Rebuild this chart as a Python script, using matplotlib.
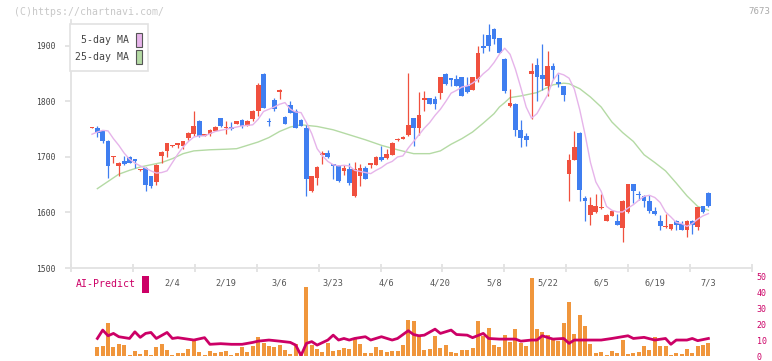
import numpy as np
import matplotlib
matplotlib.use("Agg")
import matplotlib.pyplot as plt
from matplotlib.patches import Rectangle

# daily candles (stock 7673)
opens = [1752, 1753, 1746, 1729, 1700, 1684, 1693, 1700, 1696, 1676,
         1681, 1665, 1655, 1701, 1710, 1719, 1722, 1720, 1735, 1742,
         1765, 1738, 1742, 1747, 1770, 1752, 1754, 1760, 1767, 1756,
         1768, 1782, 1850, 1764, 1803, 1817, 1772, 1794, 1782, 1767,
         1752, 1638, 1663, 1704, 1707, 1686, 1685, 1674, 1678, 1629,
         1665, 1681, 1686, 1686, 1700, 1698, 1704, 1730, 1733, 1739,
         1770, 1752, 1803, 1806, 1805, 1816, 1850, 1842, 1840, 1844,
         1828, 1821, 1840, 1900, 1920, 1931, 1914, 1877, 1792, 1796,
         1749, 1737, 1850, 1866, 1848, 1827, 1864, 1835, 1827, 1669,
         1695, 1744, 1627, 1596, 1600, 1608, 1585, 1594, 1585, 1572,
         1600, 1651, 1633, 1630, 1621, 1603, 1585, 1573, 1570, 1585,
         1579, 1569, 1585, 1573, 1611, 1636]
closes = [1754, 1744, 1728, 1683, 1702, 1690, 1687, 1690, 1693, 1678,
          1650, 1648, 1686, 1709, 1725, 1721, 1725, 1728, 1744, 1756,
          1737, 1741, 1749, 1754, 1755, 1754, 1750, 1764, 1755, 1765,
          1783, 1830, 1789, 1763, 1786, 1821, 1760, 1780, 1753, 1756,
          1660, 1665, 1682, 1706, 1700, 1684, 1656, 1681, 1653, 1678,
          1681, 1661, 1688, 1700, 1695, 1705, 1725, 1732, 1736, 1758,
          1752, 1776, 1806, 1796, 1796, 1844, 1832, 1839, 1828, 1810,
          1817, 1844, 1888, 1897, 1900, 1913, 1888, 1818, 1798, 1749,
          1734, 1730, 1855, 1845, 1840, 1864, 1857, 1832, 1811, 1695,
          1718, 1641, 1620, 1614, 1611, 1610, 1596, 1603, 1578, 1621,
          1651, 1638, 1631, 1620, 1602, 1597, 1576, 1576, 1579, 1578,
          1569, 1585, 1578, 1609, 1600, 1612]
highs = [1754, 1755, 1747, 1730, 1702, 1691, 1702, 1701, 1697, 1678,
         1682, 1666, 1687, 1710, 1726, 1722, 1726, 1729, 1745, 1782,
         1766, 1742, 1750, 1755, 1771, 1765, 1763, 1765, 1768, 1766,
         1784, 1833, 1851, 1770, 1807, 1822, 1773, 1800, 1787, 1768,
         1758, 1666, 1683, 1710, 1712, 1686, 1686, 1686, 1690, 1691,
         1687, 1683, 1688, 1701, 1720, 1714, 1727, 1734, 1737, 1851,
         1771, 1817, 1818, 1807, 1810, 1845, 1851, 1843, 1848, 1845,
         1844, 1845, 1900, 1921, 1940, 1932, 1915, 1878, 1822, 1797,
         1766, 1743, 1869, 1879, 1904, 1891, 1870, 1850, 1828, 1705,
         1746, 1745, 1630, 1628, 1633, 1633, 1597, 1604, 1597, 1622,
         1652, 1652, 1639, 1631, 1631, 1610, 1595, 1598, 1580, 1586,
         1585, 1586, 1586, 1610, 1612, 1637]
lows = [1752, 1736, 1725, 1663, 1690, 1665, 1686, 1689, 1680, 1674,
        1639, 1644, 1649, 1690, 1700, 1718, 1716, 1714, 1731, 1738,
        1736, 1737, 1737, 1746, 1754, 1741, 1749, 1759, 1752, 1755,
        1764, 1773, 1788, 1755, 1782, 1804, 1759, 1779, 1752, 1755,
        1629, 1637, 1650, 1687, 1699, 1660, 1655, 1668, 1649, 1628,
        1648, 1660, 1680, 1685, 1692, 1697, 1703, 1729, 1732, 1738,
        1719, 1740, 1783, 1795, 1786, 1805, 1830, 1828, 1827, 1809,
        1816, 1820, 1835, 1888, 1891, 1903, 1887, 1816, 1790, 1737,
        1718, 1720, 1769, 1800, 1821, 1809, 1840, 1826, 1800, 1620,
        1694, 1620, 1584, 1578, 1599, 1607, 1584, 1593, 1577, 1547,
        1599, 1617, 1622, 1609, 1599, 1596, 1568, 1572, 1569, 1568,
        1568, 1556, 1561, 1569, 1599, 1609]

ma5 = [1741, 1745, 1748, 1747, 1733, 1721, 1707, 1696, 1689, 1684,
       1680, 1675, 1671, 1672, 1675, 1690, 1705, 1718, 1728, 1736,
       1738, 1738, 1742, 1746, 1748, 1750, 1752, 1754, 1756, 1757,
       1758, 1768, 1782, 1786, 1790, 1795, 1798, 1786, 1781, 1780,
       1762, 1742, 1715, 1702, 1692, 1686, 1684, 1685, 1684, 1676,
       1674, 1672, 1670, 1676, 1681, 1688, 1692, 1700, 1702, 1716,
       1728, 1740, 1752, 1762, 1775, 1786, 1800, 1815, 1820, 1826,
       1828, 1833, 1840, 1850, 1858, 1870, 1885, 1896, 1885, 1858,
       1825, 1790, 1770, 1778, 1795, 1812, 1838, 1851, 1848, 1842,
       1822, 1785, 1740, 1690, 1655, 1638, 1611, 1604, 1601, 1601,
       1608, 1614, 1622, 1629, 1631, 1627, 1618, 1601, 1592, 1582,
       1580, 1575, 1580, 1588, 1594, 1598]

ma25_idx = [1, 3, 5, 7, 9, 11, 13, 15, 17, 19, 22, 25, 27, 29, 31, 33, 35, 37,
            39, 42, 45, 48, 51, 54, 57, 60, 63, 65, 67, 69, 71, 73, 75, 76, 77,
            78, 80, 83, 86, 88, 89, 91, 93, 95, 97, 99, 101, 103, 105, 107,
            109, 111, 113, 115]
ma25 = [1643, 1656, 1669, 1676, 1682, 1686, 1690, 1697, 1706, 1711, 1713,
        1714, 1715, 1721, 1727, 1735, 1746, 1754, 1758, 1755, 1749, 1740,
        1731, 1721, 1713, 1706, 1706, 1711, 1723, 1733, 1745, 1761, 1778,
        1790, 1798, 1807, 1810, 1816, 1830, 1833, 1832, 1823, 1808, 1790,
        1763, 1744, 1728, 1704, 1690, 1675, 1653, 1630, 1611, 1604]

# AI-Predict panel (bars start at the second candle)
ai_bars = [5.5, 6.1, 20.6, 5.5, 7.4, 6.7, 0.4, 3.0, 1.1, 3.6,
           0.4, 5.5, 7.4, 3.6, 0.4, 1.7, 1.7, 4.2, 9.9, 2.3,
           0.4, 3.0, 1.7, 2.3, 3.0, 0.4, 1.7, 5.5, 2.3, 6.1,
           11.8, 8.0, 6.1, 5.5, 6.7, 3.6, 1.1, 7.4, 1.1, 43.8,
           6.7, 4.2, 2.3, 8.0, 3.0, 3.6, 4.8, 4.2, 11.1, 7.4,
           1.7, 1.7, 5.5, 3.6, 2.3, 3.0, 3.0,
           6.7, 23.1, 22.1, 12.6, 3.8, 4.4, 12.4, 5.0, 6.7, 2.5,
           1.7, 3.8, 3.8, 5.2, 22.1, 12.6, 18.0, 6.7, 5.5, 13.6,
           8.8, 17.4, 8.2, 6.3, 49.5, 17.0, 15.1, 13.0, 10.1, 9.5,
           20.6, 34.0, 13.9, 26.2, 18.7, 7.6, 1.7, 2.5, 0.4, 3.2,
           1.7, 10.1, 1.5, 1.7, 2.5, 6.3, 3.6, 12.0, 6.3, 6.3,
           0.6, 1.7, 1.3, 4.4, 1.7, 6.3, 6.9, 8.2]
ai_idx = [1, 2, 3, 4, 5, 7, 8, 9, 10, 11, 12, 14, 15, 16, 19, 21, 22, 24, 26,
          28, 30, 31, 33, 35, 37, 38, 39, 40, 41, 42, 44, 45, 46, 47, 48, 49,
          51, 52, 54, 56, 57, 59, 60, 61, 62, 64, 65, 67, 68, 70, 71, 73, 74,
          76, 79, 80, 82, 83, 84, 86, 88, 89, 90, 92, 95, 97, 100, 101, 103,
          105, 107, 108, 109, 111, 112, 113, 115]
ai_line = [11.1, 16.4, 12.8, 14.3, 12.2, 11.1, 15.3, 11.8, 14.3, 14.9, 11.1,
           14.9, 11.1, 11.6, 10.1, 11.6, 7.4, 7.8, 7.4, 7.4, 8.6, 9.4, 10.1,
           9.4, 8.6, 6.9, 0.3, 8.0, 9.1, 6.9, 10.1, 13.2, 10.1, 11.1, 10.1,
           11.1, 12.2, 10.1, 12.2, 10.1, 11.1, 16.0, 13.6, 12.8, 13.2, 17.0,
           14.3, 16.4, 13.6, 13.2, 11.6, 14.3, 11.1, 10.7, 10.7, 9.4, 10.1,
           10.1, 12.8, 10.7, 11.1, 8.0, 10.1, 10.1, 10.1, 11.1, 12.8, 11.1,
           11.8, 10.1, 11.1, 7.4, 10.1, 10.1, 11.1, 9.7, 11.1]

date_labels = ["2/4", "2/19", "3/6", "3/23", "4/6", "4/20", "5/8", "5/22",
               "6/5", "6/19", "7/3"]
date_idx = [15, 25, 35, 45, 55, 65, 75, 85, 95, 105, 115]

RED = "#f0503e"
BLUE = "#3f7ef0"
PINK = "#e6b4ea"
GREEN = "#b4daa4"
MAGENTA = "#cc0066"
ORANGE = "#f0963c"
MONO = "DejaVu Sans Mono"

W, H = 772, 361
fig = plt.figure(figsize=(W / 100, H / 100), dpi=100)


def box(x0, y0, x1, y1):
    return [x0 / W, 1 - y1 / H, (x1 - x0) / W, (y1 - y0) / H]


xmin, xmax = (71 - 92) / 5.36, (752 - 92) / 5.36

# price panel
ax = fig.add_axes(box(71, 20, 752, 268))
o, c = np.array(opens), np.array(closes)
x = np.arange(len(o))
col = np.where(c >= o, RED, BLUE)
ax.vlines(x, lows, highs, colors=col, lw=0.9, zorder=2)
ax.bar(x, np.maximum(np.abs(c - o), 2.5), bottom=np.minimum(o, c),
       width=0.88, color=col, linewidth=0, zorder=3)
ax.plot(x, ma5, color=PINK, lw=1.0, zorder=4)
ax.plot(ma25_idx, ma25, color=GREEN, lw=1.0, zorder=1)

ax.set_xlim(xmin, xmax)
ax.set_ylim(1500, 1946.8)
ax.set_yticks([1500, 1600, 1700, 1800, 1900])
ax.set_xticks(date_idx)
ax.set_xticklabels(date_labels)
ax.set_xticks(np.linspace(xmin, xmax, 12), minor=True)
for s in ["top", "right"]:
    ax.spines[s].set_visible(False)
for s in ["left", "bottom"]:
    ax.spines[s].set_color("#e2e2e2")
    ax.spines[s].set_linewidth(1.3)
ax.tick_params(axis="y", length=4, width=1.3, color="#e2e2e2", pad=7,
               labelsize=5.8, labelcolor="#444444")
ax.tick_params(axis="x", which="major", length=0, pad=7.5,
               labelsize=6.2, labelcolor="#555555")
ax.tick_params(axis="x", which="minor", length=6, width=1.3,
               direction="inout", color="#e2e2e2")
for t in ax.get_xticklabels() + ax.get_yticklabels():
    t.set_family(MONO)

# AI-Predict panel
ax2 = fig.add_axes(box(71, 277, 752, 356))
ax2.bar(np.arange(1, len(ai_bars) + 1), ai_bars, width=0.75, color=ORANGE,
        linewidth=0, zorder=1)
ax2.plot(ai_idx, ai_line, color=MAGENTA, lw=2.0, zorder=2)
ax2.set_xlim(xmin, xmax)
ax2.set_ylim(0, 50)
ax2.set_facecolor("none")
for s in ax2.spines.values():
    s.set_visible(False)
ax2.set_xticks([])
ax2.yaxis.tick_right()
ax2.set_yticks([0, 10, 20, 30, 40, 50])
ax2.tick_params(axis="y", length=0, pad=3.5, labelsize=6, labelcolor=MAGENTA)
for t in ax2.get_yticklabels():
    t.set_family(MONO)

# texts and legend box
fig.text(14 / W, 1 - 12 / H, "(C)https://chartnavi.com/", family=MONO,
         fontsize=7.1, color="#c8c8c8", va="center")
fig.text(770 / W, 1 - 12 / H, "7673", family=MONO, fontsize=6.6,
         color="#aaaaaa", va="center", ha="right")
fig.text(76 / W, 1 - 284 / H, "AI-Predict", family=MONO, fontsize=7.1,
         color=MAGENTA, va="center")
fig.add_artist(Rectangle((142 / W, 1 - 293 / H), 7 / W, 17 / H,
                         transform=fig.transFigure, color=MAGENTA, lw=0))

fig.add_artist(Rectangle((70 / W, 1 - 71 / H), 78 / W, 47 / H,
                         transform=fig.transFigure, facecolor="white",
                         edgecolor="#e2e2e2", lw=1.2))
for yy, lab, sw in [(40, "5-day MA", PINK), (57, "25-day MA", GREEN)]:
    fig.text(129 / W, 1 - yy / H, lab, family=MONO, fontsize=7.1,
             color="#444444", va="center", ha="right")
    fig.add_artist(Rectangle((136 / W, 1 - (yy + 7) / H), 6 / W, 14 / H,
                             transform=fig.transFigure, facecolor=sw,
                             edgecolor="#555555", lw=0.8))

fig.savefig("out.png", dpi=100, facecolor="white")
